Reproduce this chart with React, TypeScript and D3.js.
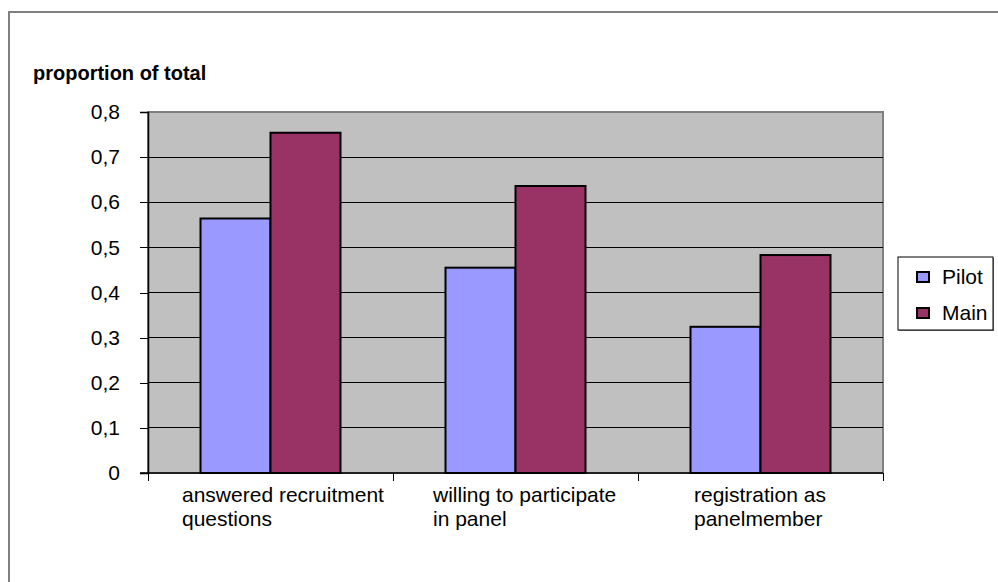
import React, { useEffect, useRef } from "react";
import * as d3 from "d3";

const categories = [
  ["answered recruitment", "questions"],
  ["willing to participate", "in panel"],
  ["registration as", "panelmember"],
];
const seriesNames = ["Pilot", "Main"];
const pilotValues = [0.564, 0.455, 0.324];
const mainValues = [0.754, 0.636, 0.483];
const yTicks = [0, 0.1, 0.2, 0.3, 0.4, 0.5, 0.6, 0.7, 0.8];

const colors = ["#9999FF", "#993366"];
// left offset of each wrapped category label inside its band
const labelDx = [34, 40, 56];

const App = () => {
  const ref = useRef<SVGSVGElement>(null);

  useEffect(() => {
    const svg = d3.select(ref.current);
    svg.selectAll("*").remove();

    const W = 998, H = 582;
    const left = 148, right = 883, top = 112, bottom = 473;
    const font = "Arial, 'Liberation Sans', sans-serif";
    const fs = 21;

    // outer chart border
    svg.append("path")
      .attr("d", `M9,${H} L9,12 L${W},12`)
      .attr("fill", "none")
      .attr("stroke", "#808080")
      .attr("stroke-width", 2);

    svg.append("text")
      .attr("x", 33).attr("y", 80)
      .attr("font-family", font)
      .attr("font-size", 20)
      .attr("font-weight", "bold")
      .text("proportion of total");

    const idx = categories.map((_, i) => i);
    const x0 = d3.scaleBand<number>().domain(idx).range([left, right]).paddingInner(0).paddingOuter(0);
    const y = d3.scaleLinear().domain([0, 0.8]).range([bottom, top]);

    // plot area
    svg.append("rect")
      .attr("x", left).attr("y", top)
      .attr("width", right - left).attr("height", bottom - top)
      .attr("fill", "#C0C0C0")
      .attr("stroke", "#808080")
      .attr("stroke-width", 2);

    // gridlines
    svg.append("g")
      .selectAll("line")
      .data(yTicks.filter(t => t > 0 && t < 0.8))
      .enter().append("line")
      .attr("x1", left).attr("x2", right)
      .attr("y1", d => y(d)).attr("y2", d => y(d))
      .attr("stroke", "#000").attr("stroke-width", 1)
      .attr("shape-rendering", "crispEdges");

    // bars
    const bw = x0.bandwidth() / 3.5;
    const groups = svg.append("g").selectAll("g")
      .data(idx).enter().append("g")
      .attr("transform", i => `translate(${x0(i)! + bw * 0.75},0)`);
    groups.selectAll("rect")
      .data(i => [pilotValues[i], mainValues[i]])
      .enter().append("rect")
      .attr("x", (_, j) => j * bw)
      .attr("y", d => y(d))
      .attr("width", bw)
      .attr("height", d => bottom - y(d))
      .attr("fill", (_, j) => colors[j])
      .attr("stroke", "#000")
      .attr("stroke-width", 2);

    // y axis
    const yAxis = svg.append("g")
      .attr("transform", `translate(${left},0)`)
      .call(d3.axisLeft(y).tickValues(yTicks).tickSize(8).tickPadding(20)
        .tickFormat(d => (d as number) === 0 ? "0" : d3.format(".1f")(d as number).replace(".", ",")));
    yAxis.select(".domain").attr("stroke", "#000").attr("stroke-width", 1.5);
    yAxis.selectAll(".tick line").attr("stroke", "#000").attr("shape-rendering", "crispEdges");
    yAxis.selectAll("text").attr("font-family", font).attr("font-size", fs).attr("fill", "#000");

    // x axis line + ticks at category borders
    const xg = svg.append("g");
    xg.append("line")
      .attr("x1", left - 8).attr("x2", right)
      .attr("y1", bottom).attr("y2", bottom)
      .attr("stroke", "#000").attr("stroke-width", 1.5);
    xg.selectAll("line.tk")
      .data([...idx, idx.length])
      .enter().append("line")
      .attr("class", "tk")
      .attr("x1", i => left + i * x0.step()).attr("x2", i => left + i * x0.step())
      .attr("y1", bottom).attr("y2", bottom + 8)
      .attr("stroke", "#000")
      .attr("shape-rendering", "crispEdges");

    // category labels
    const lbl = xg.selectAll("text.cat")
      .data(idx).enter().append("text")
      .attr("class", "cat")
      .attr("font-family", font)
      .attr("font-size", fs)
      .attr("fill", "#000");
    lbl.selectAll("tspan")
      .data(i => categories[i].map(s => ({ s, i })))
      .enter().append("tspan")
      .attr("x", d => x0(d.i)! + labelDx[d.i])
      .attr("y", (_, k) => 502 + k * 24)
      .text(d => d.s);

    // legend
    const lg = svg.append("g").attr("transform", "translate(898,257)");
    lg.append("rect")
      .attr("x", 1).attr("y", 1)
      .attr("width", 95).attr("height", 73)
      .attr("fill", "#808080");
    lg.append("rect")
      .attr("width", 95).attr("height", 73)
      .attr("fill", "#fff").attr("stroke", "#000").attr("stroke-width", 1);
    seriesNames.forEach((n, i) => {
      lg.append("rect")
        .attr("x", 19).attr("y", 15 + i * 36)
        .attr("width", 12).attr("height", 10)
        .attr("fill", colors[i]).attr("stroke", "#000").attr("stroke-width", 2);
      lg.append("text")
        .attr("x", 44).attr("y", 27 + i * 36)
        .attr("font-family", font).attr("font-size", fs)
        .text(n);
    });
  }, []);

  return <svg ref={ref} width={998} height={582} style={{ position: "absolute", left: 0, top: 0 }} />;
};

export default App;
